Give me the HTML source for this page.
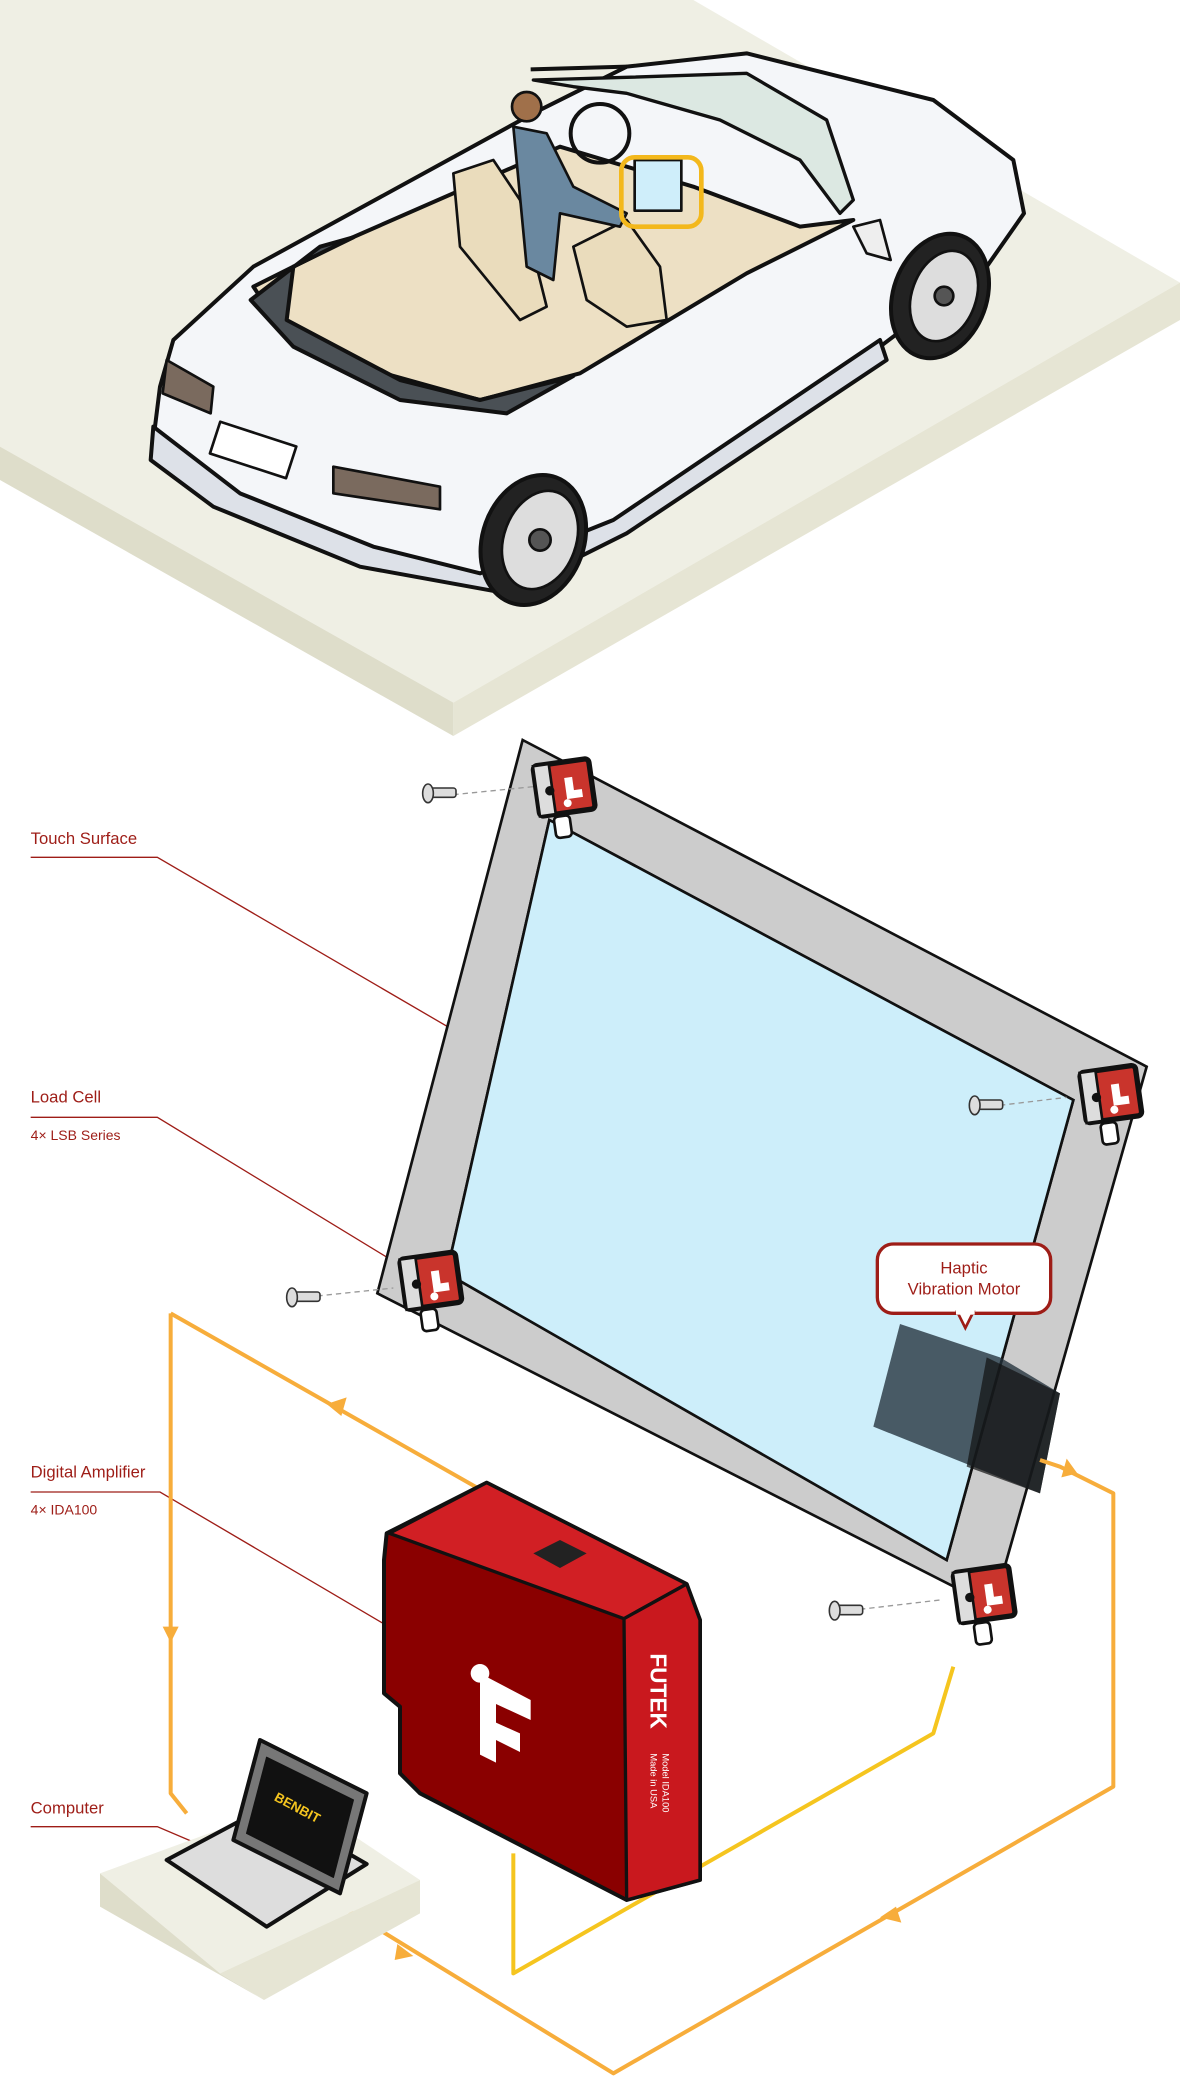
<!DOCTYPE html>
<html><head><meta charset="utf-8"><style>
html,body{margin:0;padding:0;background:#fff}
svg{display:block}
text{font-family:"Liberation Sans",sans-serif}
</style></head><body>
<svg width="1200" height="2079" viewBox="0 0 900 1559.25" xmlns="http://www.w3.org/2000/svg">
<defs>
<g id="lc">
<rect x="-18" y="-18" width="42" height="38" rx="3" fill="#c9342c" stroke="#111" stroke-width="4"/>
<rect x="-18" y="-18" width="12" height="38" fill="#ddd" stroke="#111" stroke-width="2"/>
<circle cx="-8" cy="2" r="3.5" fill="#111"/>
<path d="M4,-6 L10,-6 L10,4 L16,4 L16,10 L4,10 Z" fill="#fff"/>
<circle cx="4" cy="13" r="3" fill="#fff"/>
<rect x="-8" y="22" width="12" height="16" rx="3" fill="#fff" stroke="#111" stroke-width="2"/>
</g>
</defs>
<!-- floor -->
<polygon points="0,0 520,0 885,212 340,527 0,335" fill="#efefe4"/>
<polygon points="0,335 340,527 340,552 0,360" fill="#deddca"/>
<polygon points="340,527 885,212 885,240 340,552" fill="#e6e5d4"/>
<!-- car -->
<g stroke="#111" stroke-width="3" stroke-linejoin="round">
<path d="M130,255 L190,200 L400,85 L470,50 L560,40 L700,75 L760,120 L768,160 L740,200 L660,260 L460,400 L360,440 L280,420 L180,380 L115,330 L120,290 Z" fill="#f4f6f9"/>
<path d="M115,320 L180,370 L280,410 L360,430 L460,390 L660,255 L665,270 L470,400 L380,445 L270,425 L160,380 L113,345 Z" fill="#dde1e8"/>
<path d="M190,215 L260,180 L420,110 L520,140 L600,170 L640,165 L560,205 L435,280 L360,300 L270,275 L210,245 Z" fill="#ede0c4"/>
<path d="M188,225 L240,185 L265,178 L220,200 L215,240 L300,285 L360,300 L420,285 L430,282 L380,310 L300,300 L220,260 Z" fill="#4a5055"/>
<path d="M400,60 L470,58 L560,55 L620,90 L640,150 L630,160 L600,120 L540,90 L470,70 L430,65 Z" fill="#dce8e2" stroke-width="2.5"/>
<path d="M125,270 L160,290 L158,310 L122,295 Z" fill="#7a6a5e" stroke-width="2"/>
<path d="M250,350 L330,365 L330,382 L250,370 Z" fill="#7a6a5e" stroke-width="2"/>
<rect x="160" y="325" width="60" height="25" fill="#fff" stroke-width="2" transform="rotate(18 190 337)"/>
<path d="M340,130 L370,120 L390,150 L410,230 L390,240 L345,185 Z" fill="#eadcbc" stroke-width="2"/>
<path d="M430,185 L470,165 L495,200 L500,240 L470,245 L440,225 Z" fill="#eadcbc" stroke-width="2"/>
<circle cx="450" cy="100" r="22" fill="none" stroke-width="3"/>
<circle cx="395" cy="80" r="11" fill="#a0704a" stroke-width="2"/>
<path d="M385,95 L410,100 L430,140 L470,160 L465,170 L420,160 L415,210 L395,200 Z" fill="#6a88a0" stroke-width="2"/>
<rect x="476" y="120" width="35" height="38" fill="#cfeefa" stroke-width="2"/>
<rect x="466" y="118" width="60" height="52" rx="10" fill="none" stroke="#f3b81c" stroke-width="3.5"/>
<ellipse cx="400" cy="405" rx="38" ry="50" fill="#222" transform="rotate(20 400 405)"/>
<ellipse cx="405" cy="405" rx="27" ry="38" fill="#ddd" stroke-width="2" transform="rotate(20 405 405)"/>
<circle cx="405" cy="405" r="8" fill="#555" stroke-width="2"/>
<ellipse cx="705" cy="222" rx="35" ry="48" fill="#222" transform="rotate(20 705 222)"/>
<ellipse cx="708" cy="222" rx="24" ry="35" fill="#ddd" stroke-width="2" transform="rotate(20 708 222)"/>
<circle cx="708" cy="222" r="7" fill="#555" stroke-width="2"/>
<path d="M640,170 L660,165 L668,195 L650,190 Z" fill="#eee" stroke-width="2"/>
<path d="M398,52 L470,50" stroke-width="3"/>
</g>
<!-- labels -->
<g fill="#9e1d17" font-size="12.5">
<text x="23" y="633">Touch Surface</text>
<text x="23" y="827">Load Cell</text>
<text x="23" y="855" font-size="10.5">4× LSB Series</text>
<text x="23" y="1108">Digital Amplifier</text>
<text x="23" y="1136" font-size="10.5">4× IDA100</text>
<text x="23" y="1360">Computer</text>
</g>
<g stroke="#9e1d17" stroke-width="1" fill="none">
<polyline points="23,643 118,643 370,790"/>
<polyline points="23,838 118,838 310,955"/>
<polyline points="23,1119 120,1119 300,1225"/>
<polyline points="23,1370 118,1370 165,1390"/>
</g>
<!-- panel frame -->
<path d="M392,555 L860,800 L745,1205 L283,970 Z M412,615 L805,825 L710,1170 L335,955 Z" fill="#cccccc" fill-rule="evenodd" stroke="#111" stroke-width="2"/>
<polygon points="412,615 805,825 710,1170 335,955" fill="#cdeefa" stroke="#111" stroke-width="2"/>
<!-- haptic motor -->
<polygon points="675,993 750,1018 795,1045 780,1120 655,1070" fill="#23313b" opacity="0.78"/>
<polygon points="740,1018 795,1045 780,1120 725,1100" fill="#111" opacity="0.7"/>
<rect x="658" y="933" width="130" height="52" rx="12" fill="#fff" stroke="#9e1d17" stroke-width="2.5"/>
<polygon points="718,984 730,984 724,996" fill="#fff" stroke="#9e1d17" stroke-width="2"/>
<rect x="717" y="982" width="14" height="4" fill="#fff"/>
<text x="723" y="955" font-size="12.5" fill="#9e1d17" text-anchor="middle">Haptic</text>
<text x="723" y="971" font-size="12.5" fill="#9e1d17" text-anchor="middle">Vibration Motor</text>
<!-- load cells -->
<use href="#lc" x="420" y="590" transform="rotate(-8 420 590)"/>
<use href="#lc" x="830" y="820" transform="rotate(-8 830 820)"/>
<use href="#lc" x="320" y="960" transform="rotate(-8 320 960)"/>
<use href="#lc" x="735" y="1195" transform="rotate(-8 735 1195)"/>
<g stroke="#999" stroke-width="1" stroke-dasharray="4,3"><line x1="340" y1="596" x2="400" y2="590"/><line x1="750" y1="829" x2="800" y2="823"/><line x1="238" y1="972" x2="295" y2="966"/><line x1="645" y1="1207" x2="705" y2="1200"/></g>
<g fill="#ddd" stroke="#333" stroke-width="1.2">
<rect x="322" y="591" width="20" height="7" rx="2"/><ellipse cx="321" cy="595" rx="4" ry="7"/>
<rect x="732" y="825" width="20" height="7" rx="2"/><ellipse cx="731" cy="829" rx="4" ry="7"/>
<rect x="220" y="969" width="20" height="7" rx="2"/><ellipse cx="219" cy="973" rx="4" ry="7"/>
<rect x="627" y="1204" width="20" height="7" rx="2"/><ellipse cx="626" cy="1208" rx="4" ry="7"/>
</g>
<!-- wires -->
<g fill="none" stroke-width="3" stroke-linejoin="round">
<polyline points="128,985 128,1345 140,1360" stroke="#f7ad3b"/>
<polyline points="128,985 418,1150 420,1170" stroke="#f7ad3b"/>
<polyline points="240,1420 460,1555 835,1340 835,1120 795,1100 780,1095" stroke="#f7ad3b"/>
<polyline points="385,1390 385,1480 700,1300 715,1250" stroke="#f5c51f"/>
</g>
<g fill="#f7ad3b">
<polygon points="245,1053 260,1048 256,1062"/>
<polygon points="128,1232 122,1220 134,1220"/>
<polygon points="310,1467 298,1458 296,1470"/>
<polygon points="672,1430 660,1438 676,1442"/>
<polygon points="808,1105 800,1094 796,1108"/>
</g>
<!-- amplifier -->
<path d="M290,1150 L365,1112 L515,1188 L525,1215 L525,1410 L470,1425 L315,1345 L300,1330 L300,1280 L288,1270 L288,1170 Z" fill="#8a0000" stroke="#111" stroke-width="3" stroke-linejoin="round"/>
<path d="M292,1150 L365,1112 L515,1188 L468,1214 Z" fill="#d11f24" stroke="#111" stroke-width="2.5" stroke-linejoin="round"/>
<path d="M468,1214 L515,1188 L525,1215 L525,1410 L470,1425 Z" fill="#c9181e" stroke="#111" stroke-width="2.5" stroke-linejoin="round"/>
<polygon points="400,1165 420,1155 440,1165 420,1176" fill="#222"/>
<path d="M360,1255 L398,1275 L398,1290 L372,1278 L372,1292 L390,1300 L390,1314 L372,1305 L372,1322 L360,1316 Z" fill="#fff"/>
<circle cx="360" cy="1255" r="7" fill="#fff"/>
<text x="0" y="0" font-size="17" font-weight="bold" fill="#fff" transform="translate(488,1240) rotate(90)">FUTEK</text>
<text x="0" y="0" font-size="7" fill="#fff" transform="translate(497,1315) rotate(90)">Model IDA100</text>
<text x="0" y="0" font-size="7" fill="#fff" transform="translate(488,1315) rotate(90)">Made in USA</text>
<!-- computer platform -->
<polygon points="75,1405 225,1350 315,1410 165,1480" fill="#efefe4"/>
<polygon points="75,1405 165,1480 198,1500 75,1430" fill="#deddca"/>
<polygon points="165,1480 315,1410 315,1435 198,1500" fill="#e6e5d4"/>
<g stroke="#111" stroke-width="3" stroke-linejoin="round">
<polygon points="125,1395 200,1355 275,1398 200,1445" fill="#ddd"/>
<polygon points="175,1380 195,1305 275,1345 255,1420" fill="#777"/>
<polygon points="185,1375 200,1318 265,1350 250,1408" fill="#111" stroke-width="1"/>
</g>
<text x="0" y="0" font-size="10" font-weight="bold" fill="#f5c51f" transform="translate(205,1350) rotate(28)">BENBIT</text>
</svg>
</body></html>
